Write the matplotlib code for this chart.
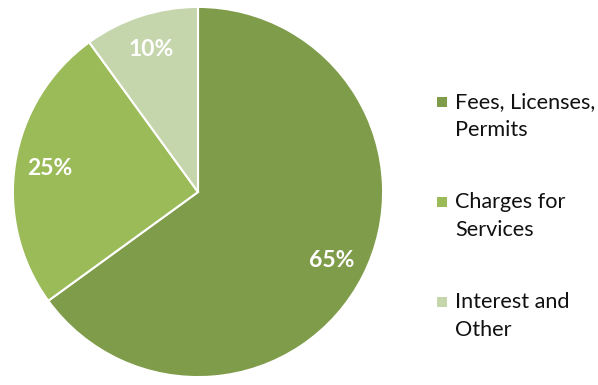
import matplotlib.pyplot as plt
from matplotlib.patches import Rectangle

# revenue share by source
labels = ['Fees, Licenses,\nPermits', 'Charges for\nServices', 'Interest and\nOther']
shares = [65, 25, 10]
colors = ['#7F9C4A', '#9BBB59', '#C6D6AC']

plt.rcParams['font.family'] = ['Lato', 'DejaVu Sans']

W, H = 598, 385
fig = plt.figure(figsize=(W / 100, H / 100), dpi=100)

cx, cy, r = 198, 192, 186
ax = fig.add_axes([(cx - r) / W, (H - cy - r) / H, 2 * r / W, 2 * r / H])
wedges, texts, autotexts = ax.pie(
    shares, colors=colors, startangle=90, counterclock=False,
    autopct='%d%%', pctdistance=0.81,
    wedgeprops=dict(edgecolor='white', linewidth=1.5),
    textprops=dict(color='white', fontsize=16.5, fontweight='bold'))
ax.set_xlim(-1.005, 1.005)
ax.set_ylim(-1.005, 1.005)
ax.set_aspect('equal')

# legend drawn by hand: square beside the first line of each label
for i, (lab, col) in enumerate(zip(labels, colors)):
    y0 = 102 + i * 100
    fig.patches.append(Rectangle((437 / W, 1 - (y0 + 5) / H), 10 / W, 10 / H,
                                 transform=fig.transFigure, facecolor=col,
                                 edgecolor='none'))
    for j, line in enumerate(lab.split('\n')):
        fig.text(455 / W, 1 - (y0 + j * 28) / H, line, fontsize=15.6,
                 color='#111111', va='center', ha='left')

fig.savefig('out.png', dpi=100)
